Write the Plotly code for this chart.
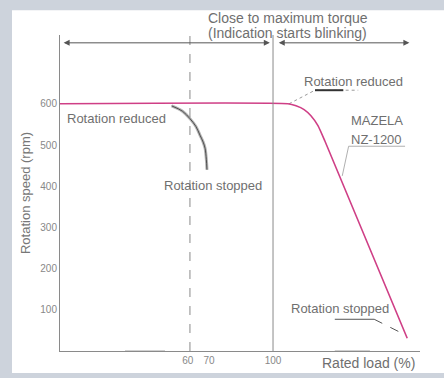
import plotly.graph_objects as go

# ---- data ----
mazela_load = [0, 107, 110.8, 114.6, 117.8, 121.1, 124.4, 163]
mazela_speed = [600, 600, 595, 586, 571, 547, 509, 31]

other_load = [52.4, 57.5, 61, 63.8, 65.7, 67.2, 68.1, 68.7, 69]
other_speed = [595, 582, 564, 545, 524, 507, 492, 465, 440]

y_ticks = [100, 200, 300, 400, 500, 600]
x_ticks = [60, 70, 100]
x_tick_labels = ["60", "70", "100"]

blink_start_load = 61
rated_load = 100

X_MAX = 169
Y_MAX = 767
GREY = "#6f6f6f"
FONT = "Liberation Sans, Arial, sans-serif"

fig = go.Figure()

# other machine curve (double grey/black line)
fig.add_trace(go.Scatter(x=other_load, y=other_speed, mode="lines",
                         line=dict(color="#b4b4b4", width=3, shape="spline"),
                         hoverinfo="skip", showlegend=False))
fig.add_trace(go.Scatter(x=other_load, y=other_speed, mode="lines",
                         line=dict(color="#333333", width=0.8, shape="spline"),
                         hoverinfo="skip", showlegend=False))

# leader lines
fig.add_trace(go.Scatter(x=[107.5, 119.7, 140], y=[600, 633, 633], mode="lines",
                         line=dict(color="#9a9a9a", width=1, dash="dot"),
                         hoverinfo="skip", showlegend=False))
fig.add_trace(go.Scatter(x=[119.7, 133], y=[633, 633], mode="lines",
                         line=dict(color="#333333", width=2),
                         hoverinfo="skip", showlegend=False))
fig.add_trace(go.Scatter(x=[132.5, 135.5, 162], y=[425, 497, 497], mode="lines",
                         line=dict(color="#b0b0b0", width=1),
                         hoverinfo="skip", showlegend=False))
fig.add_trace(go.Scatter(x=[129, 147.5], y=[77, 77], mode="lines",
                         line=dict(color="#555555", width=1),
                         hoverinfo="skip", showlegend=False))
fig.add_trace(go.Scatter(x=[147.5, 162.5], y=[77, 38], mode="lines",
                         line=dict(color="#555555", width=1, dash="dash"),
                         hoverinfo="skip", showlegend=False))

# bottom axis dark segments
fig.add_trace(go.Scatter(x=[30.5, 49.3], y=[-2, -2], mode="lines",
                         line=dict(color="#444444", width=2),
                         hoverinfo="skip", showlegend=False, cliponaxis=False))
fig.add_trace(go.Scatter(x=[129, 145.5], y=[-2, -2], mode="lines",
                         line=dict(color="#444444", width=2),
                         hoverinfo="skip", showlegend=False, cliponaxis=False))

# MAZELA curve
fig.add_trace(go.Scatter(x=mazela_load, y=mazela_speed, mode="lines",
                         line=dict(color="#cf3f86", width=1.6, shape="spline", smoothing=0.5),
                         hoverinfo="skip", showlegend=False))

# vertical reference lines
fig.add_shape(type="line", x0=blink_start_load, x1=blink_start_load, y0=0, y1=Y_MAX,
              xref="x", yref="y", line=dict(color="#8a8a8a", width=1, dash="dash"))
fig.add_shape(type="line", x0=rated_load, x1=rated_load, y0=0, y1=Y_MAX,
              xref="x", yref="y", line=dict(color="#8a8a8a", width=1))

# white panel background
fig.add_shape(type="rect", xref="paper", yref="paper",
              x0=-0.1333, x1=1.07, y0=-0.07, y1=1.078,
              fillcolor="white", line=dict(width=0), layer="below")

ann = []
def txt(x, y, s, size=13, xanchor="center", color=GREY, ref="data"):
    xr, yr = ("x", "y") if ref == "data" else ("paper", "paper")
    ann.append(dict(x=x, y=y, xref=xr, yref=yr, text=s, showarrow=False,
                    xanchor=xanchor, yanchor="middle",
                    font=dict(family=FONT, size=size, color=color)))

txt(0.633, 1.053, "Close to maximum torque", size=14, ref="paper")
txt(0.633, 1.006, "(Indication starts blinking)", size=14, ref="paper")
txt(137.6, 655, "Rotation reduced", size=13)
txt(135.5, 559, "MAZELA", size=13, xanchor="left")
txt(135.5, 514, "NZ-1200", size=13, xanchor="left")
txt(26.3, 564, "Rotation reduced", size=13)
txt(71.8, 402, "Rotation stopped", size=13)
txt(131.5, 103, "Rotation stopped", size=13)
txt(0.856, -0.037, "Rated load (%)", size=14, ref="paper")

# double-headed arrows
ann.append(dict(x=98.5, y=748, ax=1, ay=748, xref="x", yref="y", axref="x", ayref="y",
                text="", showarrow=True, arrowside="end+start", arrowhead=2,
                arrowsize=1.2, arrowwidth=1, arrowcolor="#555555"))
ann.append(dict(x=164, y=748, ax=102, ay=748, xref="x", yref="y", axref="x", ayref="y",
                text="", showarrow=True, arrowside="end+start", arrowhead=2,
                arrowsize=1.2, arrowwidth=1, arrowcolor="#555555"))

fig.update_layout(
    width=444, height=378,
    margin=dict(l=60, r=24, t=35, b=22),
    paper_bgcolor="#cdd3dc",
    plot_bgcolor="rgba(0,0,0,0)",
    annotations=ann,
    xaxis=dict(range=[0, X_MAX], showgrid=False, zeroline=False,
               showline=True, linecolor="#8a8a8a", linewidth=1,
               tickvals=x_ticks, ticktext=x_tick_labels, ticks="",
               tickfont=dict(family=FONT, size=10, color="#888888")),
    yaxis=dict(range=[0, Y_MAX], showgrid=False, zeroline=False,
               showline=True, linecolor="#8a8a8a", linewidth=1,
               tickvals=y_ticks, ticks="",
               tickfont=dict(family=FONT, size=10, color="#888888"),
               title=dict(text="Rotation speed (rpm)", standoff=6,
                          font=dict(family=FONT, size=13, color="#777777"))),
)

fig.write_html("out.html", config={"displayModeBar": False},
               post_script="document.body.style.margin='0px';document.body.style.overflow='hidden';")
